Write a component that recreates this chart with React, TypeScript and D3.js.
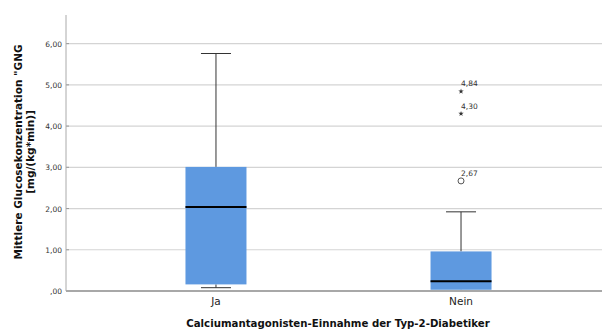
import React from 'react';
import * as d3 from 'd3';

const categories = ['Ja', 'Nein'];
const whiskerLow = [0.08, 0.01];
const q1 = [0.16, 0.03];
const medians = [2.04, 0.235];
const q3 = [3.01, 0.96];
const whiskerHigh = [5.76, 1.92];

// outliers only in "Nein"
const outlierValues = [2.67, 4.3, 4.84];
const outlierLabels = ['2,67', '4,30', '4,84'];
const outlierExtreme = [false, true, true];

const yTicks = [0, 1, 2, 3, 4, 5, 6];

const width = 602;
const height = 332;
const margin = { top: 15, right: 0, bottom: 41, left: 66 };
const font = '"DejaVu Sans", Verdana, sans-serif';

const fmt = (v: number) => {
  const s = v.toFixed(2).replace('.', ',');
  return s.startsWith('0') ? s.slice(1) : s;
};

const App = () => {
  const y = d3.scaleLinear()
    .domain([0, 6])
    .range([height - margin.bottom, height - margin.bottom - 6 * 41.23]);

  const x = d3.scalePoint<string>()
    .domain(categories)
    .range([margin.left, width + 9])
    .padding(0.612);

  const boxW = 61;
  const capW = 30;
  const bottom = y(0);

  return (
    <svg width={width} height={height} style={{ position: 'absolute', left: 0, top: 0, background: '#fff' }}>
      {/* gridlines + tick labels */}
      {yTicks.map((t) => (
        <g key={t}>
          {t > 0 && (
            <line x1={margin.left} x2={width} y1={y(t)} y2={y(t)} stroke="#d4d4d4" strokeWidth={1.2} />
          )}
          <line x1={margin.left} x2={margin.left + 3} y1={y(t)} y2={y(t)} stroke="#999" />
          <text x={62} y={y(t) + 3} textAnchor="end" fontSize={7.5} fill="#333" fontFamily={font}>
            {fmt(t)}
          </text>
        </g>
      ))}

      {/* left axis */}
      <line x1={margin.left} x2={margin.left} y1={margin.top} y2={bottom} stroke="#aaa" strokeWidth={1} />

      {/* boxes */}
      {categories.map((c, i) => {
        const cx = x(c) as number;
        return (
          <g key={c}>
            <line x1={cx} x2={cx} y1={y(whiskerHigh[i])} y2={y(q3[i])} stroke="#333" />
            <line x1={cx} x2={cx} y1={y(q1[i])} y2={y(whiskerLow[i])} stroke="#333" />
            <line x1={cx - capW / 2} x2={cx + capW / 2} y1={y(whiskerHigh[i])} y2={y(whiskerHigh[i])} stroke="#333" />
            <line x1={cx - capW / 2} x2={cx + capW / 2} y1={y(whiskerLow[i])} y2={y(whiskerLow[i])} stroke="#333" />
            <rect x={cx - boxW / 2} y={y(q3[i])} width={boxW} height={y(q1[i]) - y(q3[i])} fill="#5e99e0" />
            <line x1={cx - boxW / 2} x2={cx + boxW / 2} y1={y(medians[i])} y2={y(medians[i])} stroke="#000" strokeWidth={2} />
          </g>
        );
      })}

      {/* outliers */}
      {outlierValues.map((v, i) => {
        const cx = x('Nein') as number;
        const cy = y(v);
        return (
          <g key={i}>
            {outlierExtreme[i] ? (
              <path d={d3.symbol(d3.symbolStar, 9)() as string} transform={`translate(${cx},${cy})`} fill="#333" />
            ) : (
              <circle cx={cx} cy={cy} r={3} fill="none" stroke="#555" strokeWidth={1} />
            )}
            <text x={cx} y={cy - 5} fontSize={7.5} fill="#333" fontFamily={font}>
              {outlierLabels[i]}
            </text>
          </g>
        );
      })}

      {/* bottom axis */}
      <line x1={margin.left} x2={width} y1={bottom} y2={bottom} stroke="#a8a8a8" strokeWidth={2} />

      {categories.map((c) => (
        <text key={c} x={x(c) as number} y={305} textAnchor="middle" fontSize={10.5} fill="#222" fontFamily={font}>
          {c}
        </text>
      ))}

      <text x={338} y={327} textAnchor="middle" fontSize={10.2} fontWeight="bold" fill="#111" fontFamily={font}>
        Calciumantagonisten-Einnahme der Typ-2-Diabetiker
      </text>

      <g transform="translate(0,152) rotate(-90)">
        <text x={0} y={22} textAnchor="middle" fontSize={10.5} fontWeight="bold" fill="#111" fontFamily={font}>
          Mittlere Glucosekonzentration "GNG
        </text>
        <text x={0} y={34} textAnchor="middle" fontSize={10.5} fontWeight="bold" fill="#111" fontFamily={font}>
          [mg/(kg*min)]
        </text>
      </g>
    </svg>
  );
};

export default App;
